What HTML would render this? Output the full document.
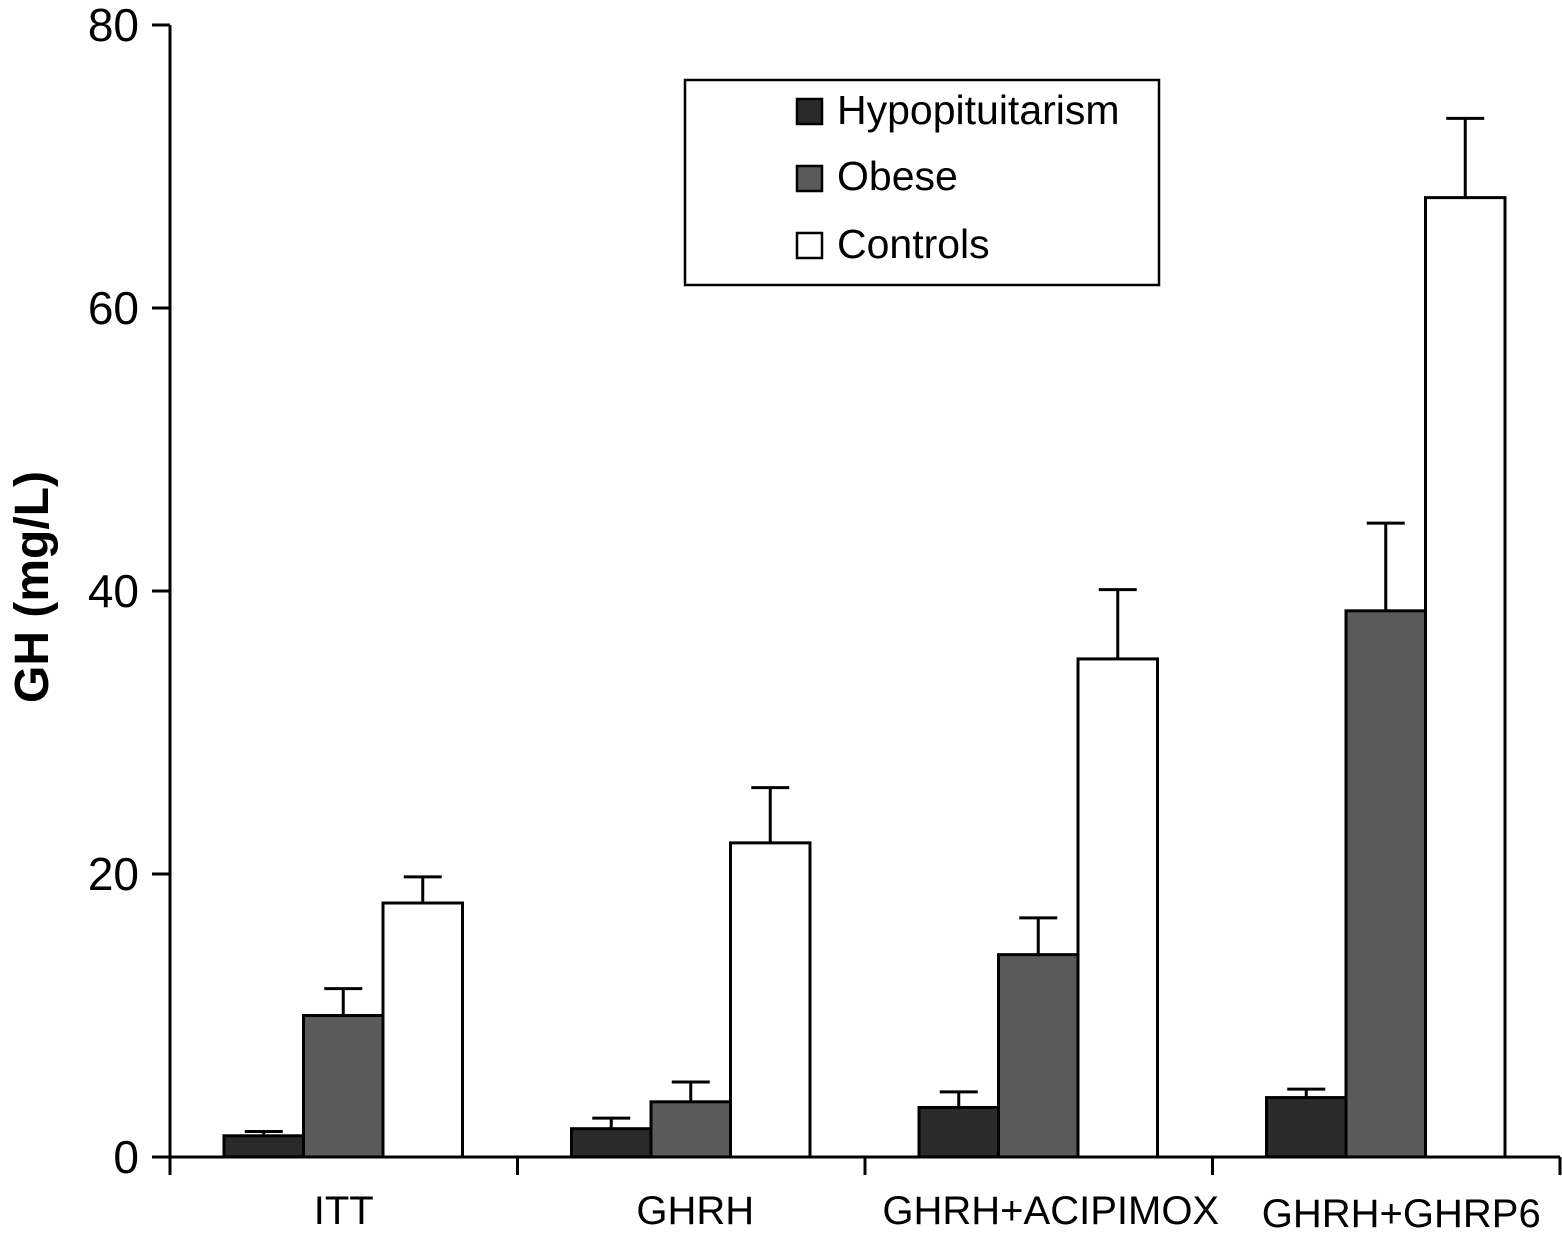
<!DOCTYPE html>
<html><head><meta charset="utf-8"><style>
html,body{margin:0;padding:0;background:#fff}
svg{display:block;font-family:"Liberation Sans",Arial,sans-serif}
</style></head><body>
<svg id="chart" width="1562" height="1236" viewBox="0 0 1562 1236">
<g id="axes"></g><g id="bars"></g>
<g>
<rect x="685" y="80" width="474" height="205" fill="#fff" stroke="#000" stroke-width="2.5"/>
<rect x="797" y="99" width="25" height="25" fill="#2a2a2a" stroke="#000" stroke-width="2.5"/>
<text x="837" y="124" font-size="41">Hypopituitarism</text>
<rect x="797" y="166" width="25" height="25" fill="#5a5a5a" stroke="#000" stroke-width="2.5"/>
<text x="837" y="190" font-size="41">Obese</text>
<rect x="797" y="233" width="25" height="25" fill="#fff" stroke="#000" stroke-width="2.5"/>
<text x="837" y="258" font-size="41">Controls</text>
</g>
<text transform="translate(48,587) rotate(-90)" text-anchor="middle" font-size="48" font-weight="bold">GH (mg/L)</text>
</svg>
<script>
const categories=["ITT","GHRH","GHRH+ACIPIMOX","GHRH+GHRP6"];
const seriesNames=["Hypopituitarism","Obese","Controls"];
const hypoValues=[1.5,2.0,3.5,4.2];
const hypoErrors=[0.3,0.75,1.1,0.6];
const obeseValues=[10.0,3.9,14.3,38.6];
const obeseErrors=[1.9,1.4,2.6,6.2];
const controlValues=[17.95,22.2,35.2,67.8];
const controlErrors=[1.85,3.9,4.9,5.6];
const yTicks=[0,20,40,60,80];
const NS="http://www.w3.org/2000/svg";
const x0=170,x1=1560,y0=1157,yTop=25,yMax=80;
const catW=(x1-x0)/categories.length;
const labelShift=[0,4,12,15];
const yS=v=>y0-(y0-yTop)*v/yMax;
function mk(t,a,p){const e=document.createElementNS(NS,t);for(const k in a)e.setAttribute(k,a[k]);p.appendChild(e);return e;}
const ax=document.getElementById('axes'),bg=document.getElementById('bars');
let l=mk('line',{x1:x0,y1:yTop,x2:x0,y2:y0,stroke:'#000','stroke-width':3},ax);


l=mk('line',{x1:x0,y1:y0,x2:x1,y2:y0,stroke:'#000','stroke-width':3},ax);


yTicks.forEach(v=>{const y=yS(v);
 const t=mk('line',{x1:152,y1:y,x2:x0,y2:y,stroke:'#000','stroke-width':3},ax);
 
 
 const tx=mk('text',{x:139,y:y+16,'text-anchor':'end','font-size':46},ax);tx.textContent=v;
 
 });
for(let i=0;i<=categories.length;i++){const x=x0+i*catW;
 const t=mk('line',{x1:x,y1:y0,x2:x,y2:1175,stroke:'#000','stroke-width':3},ax);
 
 }
const series=[[hypoValues,hypoErrors,'#2a2a2a'],[obeseValues,obeseErrors,'#5a5a5a'],[controlValues,controlErrors,'#fff']];
const bw=79.5;
categories.forEach((c,i)=>{
 const cx=x0+i*catW;
 const tx=mk('text',{x:cx+catW/2+labelShift[i],y:i==3?1227:1224,'text-anchor':'middle','font-size':40},ax);tx.textContent=c;
 
 
 series.forEach((s,j)=>{
  const bx=cx+54+j*bw,v=s[0][i],e=s[1][i],xm=bx+bw/2;
  const el=mk('line',{x1:xm,y1:yS(v),x2:xm,y2:yS(v+e),stroke:'#000','stroke-width':3},bg);
  
  
  const cap=mk('line',{x1:xm-19,y1:yS(v+e),x2:xm+19,y2:yS(v+e),stroke:'#000','stroke-width':3},bg);
  
  
  const r=mk('rect',{x:bx,y:yS(v),width:bw,height:y0-yS(v),fill:s[2],stroke:'#000','stroke-width':3},bg);
  
  
 });
});
</script>
</body></html>
